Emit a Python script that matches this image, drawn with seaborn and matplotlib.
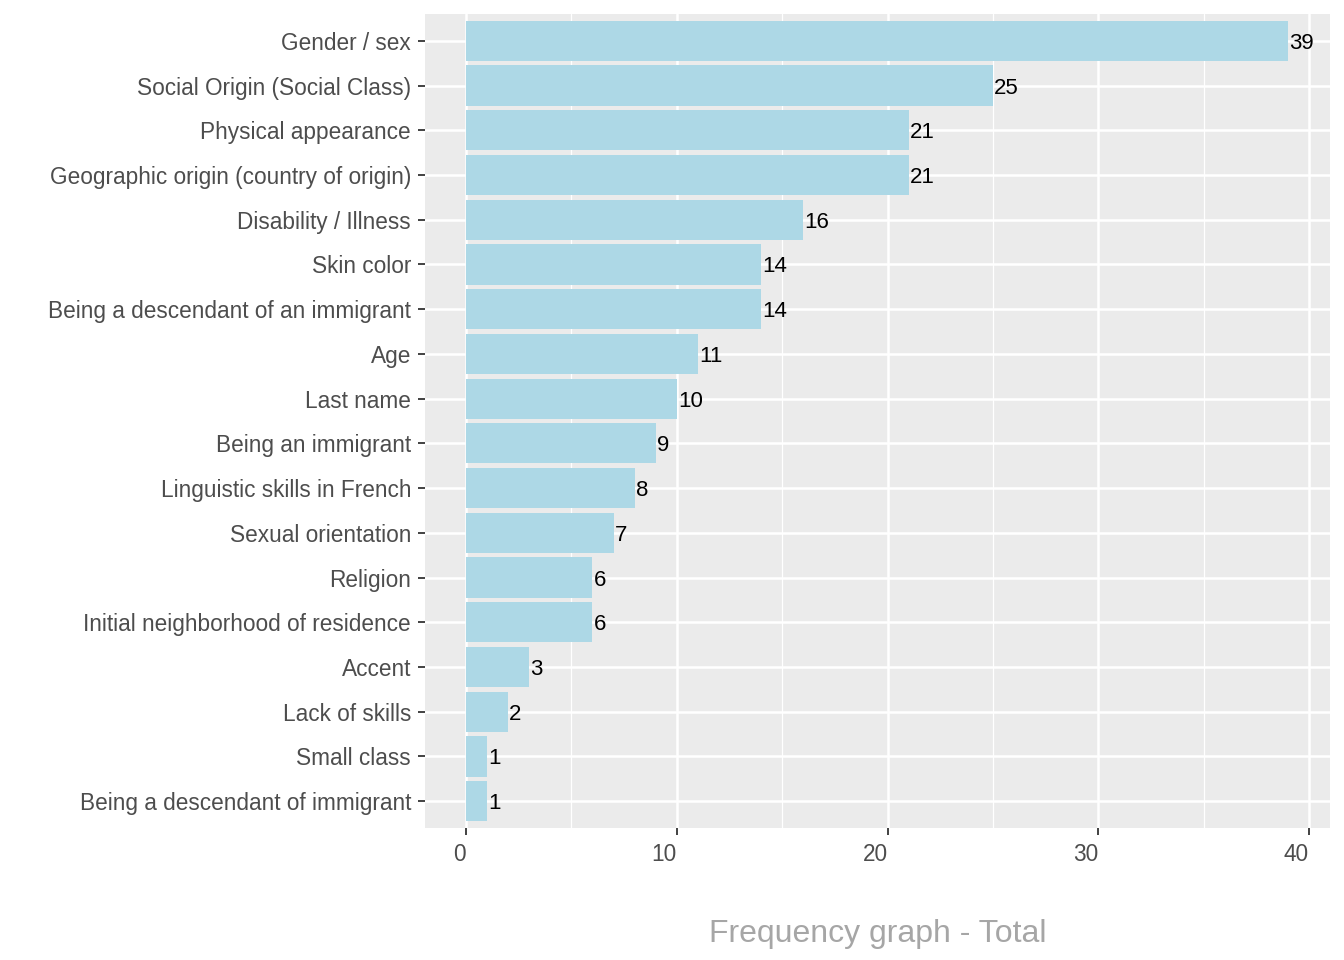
import matplotlib
matplotlib.use("Agg")
import matplotlib.pyplot as plt
import pandas as pd
import seaborn as sns

# Data
categories = [
    'Gender / sex', 'Social Origin (Social Class)', 'Physical appearance',
    'Geographic origin (country of origin)', 'Disability / Illness', 'Skin color',
    'Being a descendant of an immigrant', 'Age', 'Last name', 'Being an immigrant',
    'Linguistic skills in French', 'Sexual orientation', 'Religion',
    'Initial neighborhood of residence', 'Accent', 'Lack of skills',
    'Small class', 'Being a descendant of immigrant',
]
counts = [39, 25, 21, 21, 16, 14, 14, 11, 10, 9, 8, 7, 6, 6, 3, 2, 1, 1]
x_ticks = [0, 10, 20, 30, 40]

df = pd.DataFrame({'category': categories, 'count': counts})

sns.set_theme(style='darkgrid')
plt.rcParams['font.family'] = ['Liberation Sans', 'DejaVu Sans']

fig = plt.figure(figsize=(13.44, 9.6), dpi=100)
ax = fig.add_axes([0.3162, 0.1375, 0.9896 - 0.3162, 0.9854 - 0.1375])
ax.set_facecolor('#EBEBEB')

sns.barplot(data=df, x='count', y='category', order=categories,
            color='#ADD8E6', saturation=1, width=0.9, linewidth=0, ax=ax, zorder=3)

for i, v in enumerate(counts):
    ax.text(v + 0.05, i, str(v), ha='left', va='center_baseline', fontsize=16,
            color='black', zorder=4)

n = len(categories)
ax.set_xlim(-0.05 * 39, 39 + 0.05 * 39 + 0.05)
ax.set_ylim(n - 1 + 0.6, -0.6)

ax.set_xticks(x_ticks)
ax.set_xticks([5, 15, 25, 35], minor=True)
ax.grid(True, which='major', color='white', linewidth=1.8)
ax.grid(True, which='minor', axis='x', color='white', linewidth=0.9)
ax.set_axisbelow(True)
for s in ax.spines.values():
    s.set_visible(False)

ax.tick_params(axis='both', which='major', length=5, width=1.3, color='#333333',
               labelsize=16.3, labelcolor='#4D4D4D', pad=5, bottom=True, left=True)
ax.tick_params(axis='x', which='major', pad=6)
ax.tick_params(axis='x', which='minor', length=0)

# x labels right-aligned to their ticks, as in the reference
for lab in ax.get_xticklabels():
    lab.set_horizontalalignment('right')

ax.set_ylabel('')
ax.set_xlabel('Frequency graph - Total', fontsize=23, color='#A6A6A6', labelpad=38)

fig.savefig('out.png', dpi=100)
